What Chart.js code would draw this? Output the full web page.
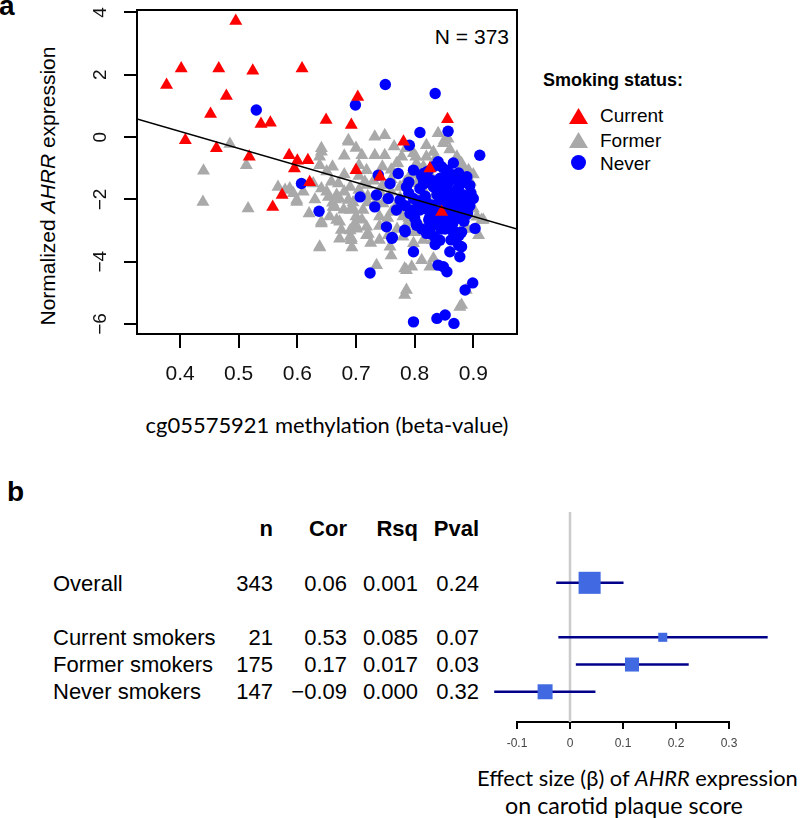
<!DOCTYPE html>
<html>
<head>
<meta charset="utf-8">
<script src="https://cdn.jsdelivr.net/npm/chart.js@4.4.1/dist/chart.umd.min.js"></script>
<style>
  html, body { margin: 0; padding: 0; background: #fff; }
  body { width: 800px; height: 818px; position: relative; overflow: hidden;
         font-family: "Liberation Sans", Arial, sans-serif; color: #000; }
  canvas { position: absolute; }
  #texts { position: absolute; left: 0; top: 0; width: 800px; height: 818px; pointer-events: none; }
  .t { position: absolute; white-space: nowrap; line-height: 1; }
  .c { transform: translate(-50%, -50%); }
  .l { transform: translate(0, -50%); }
  .r { transform: translate(-100%, -50%); }
  .cal { font-family: Lato, "Open Sans", sans-serif; }
  .tri { position: absolute; width: 19px; height: 16px; clip-path: polygon(50% 0, 100% 100%, 0 100%); }
  .dot { position: absolute; width: 15px; height: 15px; border-radius: 50%; }
</style>
</head>
<body>
<div id="texts">
  <!-- panel a text -->
  <div class="t l" style="left:-1px;top:6px;font-size:28px;font-weight:bold">a</div>
  <div class="t r" style="left:509px;top:36px;font-size:21px">N = 373</div>
  <div class="t" style="left:47px;top:186px;font-size:21px;transform:translate(-50%,-50%) rotate(-90deg)">Normalized <i>AHRR</i> expression</div>
  <div class="t c cal fit" data-w="363" style="left:327px;top:425px;font-size:21px">cg05575921 methylation (beta-value)</div>

  <div class="t l" style="left:543px;top:80px;font-size:18px;font-weight:bold">Smoking status:</div>
  <div class="tri" style="left:569px;top:108px;background:#ff0000"></div>
  <div class="tri" style="left:569px;top:132px;background:#a9a9a9"></div>
  <div class="dot" style="left:571px;top:155px;background:#0000ff"></div>
  <div class="t l" style="left:600px;top:115px;font-size:19px">Current</div>
  <div class="t l" style="left:600px;top:140px;font-size:19px">Former</div>
  <div class="t l" style="left:600px;top:163px;font-size:19px">Never</div>

  <!-- panel b text -->
  <div class="t l" style="left:7px;top:492px;font-size:28px;font-weight:bold">b</div>
  <div id="table"></div>
  <div class="t l cal fit" data-w="321" style="left:477px;top:778px;font-size:21px">Effect size (β) of <i>AHRR</i> expression</div>
  <div class="t l cal fit" data-w="238" style="left:505px;top:806px;font-size:21px">on carotid plaque score</div>
</div>
<canvas id="ca" width="800" height="440" style="left:0;top:0"></canvas>
<canvas id="cb" width="320" height="272" style="left:480px;top:480px"></canvas>

<script>
// ---- panel a data: cg05575921 beta-value vs normalized AHRR expression ----
const currentX = [0.377, 0.402, 0.495, 0.466, 0.524, 0.608, 0.479, 0.452, 0.538, 0.554,
  0.409, 0.462, 0.518, 0.586, 0.600, 0.618, 0.595, 0.621, 0.574, 0.558,
  0.649, 0.692, 0.703, 0.700, 0.741, 0.856, 0.781, 0.826, 0.846];
const currentY = [1.67, 2.20, 3.73, 2.20, 2.13, 2.20, 1.32, 0.74, 0.42, 0.46,
  -0.10, -0.36, -0.63, -0.58, -0.76, -0.74, -1.01, -1.45, -1.86, -2.24,
  0.55, 0.39, 1.29, -1.06, -1.27, 0.57, -0.15, -1.01, -2.40];

const formerX = [0.440, 0.439, 0.485, 0.513, 0.516, 0.579, 0.593, 0.599, 0.641, 0.638,
  0.627, 0.641, 0.658, 0.653, 0.672, 0.664, 0.679, 0.641, 0.672, 0.675,
  0.695, 0.701, 0.690, 0.693, 0.638, 0.672, 0.718, 0.687, 0.710, 0.732,
  0.749, 0.732, 0.749, 0.718, 0.715, 0.735, 0.758, 0.783, 0.795, 0.812,
  0.832, 0.786, 0.783, 0.880, 0.888, 0.840, 0.851, 0.820, 0.785, 0.771,
  0.802, 0.892, 0.895, 0.914, 0.909, 0.837, 0.798, 0.754, 0.752, 0.775,
  0.741, 0.701, 0.721, 0.692, 0.786, 0.826, 0.792, 0.858, 0.849, 0.857,
  0.769, 0.766, 0.803, 0.820, 0.670, 0.690, 0.718, 0.667, 0.687, 0.661,
  0.690, 0.712, 0.746, 0.769, 0.792, 0.826, 0.855, 0.880, 0.906, 0.917,
  0.667, 0.698, 0.718, 0.778, 0.798, 0.832, 0.872, 0.880, 0.803, 0.849,
  0.869, 0.784, 0.820, 0.869, 0.837, 0.567, 0.587, 0.599, 0.638, 0.641,
  0.687, 0.660, 0.641, 0.638, 0.692, 0.877, 0.800, 0.810, 0.780, 0.760,
  0.740, 0.720, 0.730, 0.760, 0.790, 0.830, 0.860, 0.890, 0.900, 0.880,
  0.870, 0.815, 0.780, 0.760, 0.740, 0.700, 0.705, 0.680, 0.660, 0.630,
  0.620, 0.610, 0.650, 0.665, 0.680, 0.695, 0.705, 0.720, 0.735, 0.745,
  0.760, 0.775, 0.785, 0.800, 0.815, 0.825, 0.655, 0.690, 0.710, 0.725,
  0.740, 0.755, 0.770, 0.790, 0.805, 0.835, 0.845, 0.865, 0.885, 0.900,
  0.895, 0.875, 0.860, 0.830, 0.810, 0.765, 0.745, 0.705, 0.680, 0.650,
  0.700, 0.760];
const formerY = [-1.08, -2.08, -0.22, -0.90, -2.29, -1.70, -1.80, -2.08, -0.47, -0.90,
  -1.49, -1.65, -1.43, -1.92, -1.98, -2.24, -2.33, -2.72, -2.72, -2.98,
  -2.29, -2.94, -3.20, -3.54, -3.54, -3.26, -3.15, -0.15, -0.58, 0.01,
  0.06, -0.58, -0.58, -1.06, -1.43, -4.11, -3.52, -4.22, -4.16, -3.95,
  -3.90, -4.91, -5.07, -5.39, -4.91, 0.12, -0.10, -0.26, -0.36, -0.84,
  -0.63, -1.06, -1.43, -2.66, -3.15, -2.98, -3.41, -2.60, -2.00, -1.60,
  -1.76, -2.88, -3.11, -3.31, -4.27, -4.16, -2.72, -2.72, -0.20, -0.05,
  -0.85, -1.20, -0.85, -0.63, -1.49, -1.60, -1.54, -1.86, -2.02, -2.24,
  -2.34, -2.34, -2.13, -2.18, -2.24, -2.29, -2.34, -2.18, -2.56, -2.66,
  -2.66, -2.77, -2.88, -0.63, -0.52, -0.48, -0.63, -0.85, -1.49, -1.54,
  -1.38, -1.44, -1.86, -1.81, -1.76, -1.60, -1.65, -2.02, -0.63, -0.36,
  -0.10, -2.11, -2.77, -3.52, -3.25, -5.45, -1.20, -1.95, -2.55, -2.40,
  -2.55, -2.10, -1.40, -1.05, -1.30, -2.60, -2.85, -2.95, -1.20, -0.95,
  -3.25, -3.30, -3.20, -3.80, -3.30, -2.55, -1.70, -1.20, -0.95, -2.00,
  -2.45, -1.75, -1.10, -2.00, -1.75, -2.10, -1.25, -1.90, -2.05, -1.55,
  -1.75, -1.95, -2.85, -3.05, -0.95, -1.15, -2.55, -3.00, -2.65, -3.40,
  -2.85, -3.15, -2.95, -2.60, -2.10, -0.70, -2.75, -2.15, -2.80, -2.30,
  -1.65, -1.25, -0.40, -3.30, -2.85, -0.30, -0.95, -0.90, -0.60, -1.75,
  -0.35, -1.35];

const neverX = [0.530, 0.699, 0.750, 0.835, 0.809, 0.857, 0.791, 0.911, 0.607, 0.707,
  0.637, 0.738, 0.724, 0.798, 0.838, 0.852, 0.867, 0.899, 0.886, 0.849,
  0.855, 0.877, 0.860, 0.880, 0.798, 0.762, 0.752, 0.783, 0.820, 0.843,
  0.903, 0.897, 0.896, 0.894, 0.840, 0.866, 0.772, 0.798, 0.815, 0.843,
  0.860, 0.889, 0.786, 0.758, 0.809, 0.832, 0.855, 0.875, 0.900, 0.735,
  0.755, 0.775, 0.798, 0.820, 0.843, 0.863, 0.883, 0.892, 0.732, 0.769,
  0.792, 0.809, 0.826, 0.855, 0.872, 0.803, 0.826, 0.843, 0.865, 0.832,
  0.855, 0.761, 0.784, 0.803, 0.826, 0.875, 0.840, 0.815, 0.838, 0.868,
  0.880, 0.850, 0.820, 0.790, 0.875, 0.848, 0.828, 0.866, 0.885, 0.800,
  0.845, 0.870, 0.835, 0.812, 0.822, 0.834, 0.846, 0.858, 0.870, 0.882,
  0.894, 0.818, 0.830, 0.842, 0.854, 0.866, 0.878, 0.890, 0.806, 0.824,
  0.836, 0.848, 0.860, 0.872, 0.884, 0.812, 0.828, 0.852, 0.864, 0.876,
  0.888, 0.816, 0.840, 0.858, 0.870, 0.846, 0.834, 0.862, 0.880, 0.796,
  0.808, 0.790, 0.784];
const neverY = [0.87, 1.03, 1.69, 1.40, 0.15, 0.19, -0.26, -0.58, -1.49, -1.92,
  -2.38, -1.22, -4.36, -5.93, -5.82, -5.71, -5.98, -4.68, -4.91, -4.16,
  -4.32, -3.84, -3.68, -3.52, -3.68, -3.22, -2.88, -2.99, -3.09, -3.31,
  -2.93, -1.97, -1.80, -2.20, -0.79, -0.83, -1.17, -1.06, -1.17, -1.33,
  -1.17, -1.27, -1.60, -1.49, -1.65, -1.60, -1.70, -1.60, -1.97, -1.86,
  -1.97, -2.02, -1.97, -2.08, -2.02, -2.13, -2.08, -2.24, -2.24, -2.34,
  -2.45, -2.34, -2.56, -2.50, -2.61, -2.77, -2.77, -2.77, -2.77, -0.95,
  -1.06, -3.25, -3.04, -2.83, -3.09, -3.47, -4.11, -1.40, -1.85, -1.90,
  -2.35, -2.25, -2.30, -1.80, -1.15, -1.55, -1.38, -2.40, -1.45, -2.60,
  -2.95, -3.05, -3.45, -1.25, -1.10, -1.48, -1.30, -1.45, -1.72, -1.85,
  -1.55, -1.90, -2.18, -1.75, -2.00, -2.25, -2.00, -2.45, -2.20, -2.65,
  -2.40, -2.70, -2.55, -2.30, -2.70, -2.95, -2.88, -2.95, -3.00, -3.15,
  -2.50, -1.50, -2.55, -1.95, -1.35, -0.95, -3.20, -3.30, -3.05, -2.35,
  -2.05, -1.45, -2.20];

// least-squares line drawn in panel a
const fitIntercept = 2.36;
const fitSlope = -5.45;
const xRange = [0.3266, 0.9745];
const yRange = [-6.32, 4.08];

// ---- panel b data: AHRR expression vs carotid plaque score ----
const groups = ['Overall', 'Current smokers', 'Former smokers', 'Never smokers'];
const rowPos = [0, 2, 3, 4];
const nVals = ['343', '21', '175', '147'];
const corVals = ['0.06', '0.53', '0.17', '\u22120.09'];
const rsqVals = ['0.001', '0.085', '0.017', '0.000'];
const pVals = ['0.24', '0.07', '0.03', '0.32'];
const beta = [0.037, 0.175, 0.117, -0.047];
const lower = [-0.026, -0.022, 0.011, -0.143];
const upper = [0.101, 0.373, 0.224, 0.048];
const betaTicks = [-0.1, 0.3];   // axis drawn from first to last tick, as in R
const rowRange = [-2.6, 5.11];

Chart.defaults.font.family = '"Liberation Sans", Arial, sans-serif';
Chart.defaults.color = '#000';

const pts = (xs, ys) => xs.map((x, i) => ({ x, y: ys[i] }));

// box round the plot region, as R's box()
const frame = {
  id: 'frame',
  afterDatasetsDraw(chart) {
    const { ctx, chartArea: a } = chart;
    ctx.save();
    ctx.strokeStyle = '#000';
    ctx.lineWidth = 2;
    ctx.strokeRect(a.left, a.top, a.right - a.left, a.bottom - a.top);
    ctx.restore();
  }
};

// y tick labels written parallel to the axis (R's las = 0)
const yTickText = {
  id: 'yTickText',
  afterDraw(chart) {
    const s = chart.scales.y, ctx = chart.ctx;
    ctx.save();
    ctx.font = '19px "Liberation Sans", Arial, sans-serif';
    ctx.fillStyle = '#111';
    ctx.textAlign = 'center';
    ctx.textBaseline = 'middle';
    s.ticks.forEach(t => {
      ctx.save();
      ctx.translate(s.right - 36, s.getPixelForValue(t.value));
      ctx.rotate(-Math.PI / 2);
      ctx.fillText(String(t.value).replace('-', '\u2212'), 0, 0);
      ctx.restore();
    });
    ctx.restore();
  }
};

new Chart(document.getElementById('ca'), {
  type: 'scatter',
  data: {
    datasets: [
      { label: 'fit', data: xRange.map(x => ({ x, y: fitIntercept + fitSlope * x })),
        showLine: true, borderColor: '#000', borderWidth: 1.5, pointRadius: 0, order: -1 },
      { label: 'Current', data: pts(currentX, currentY), pointStyle: 'triangle',
        pointRadius: 7.5, backgroundColor: '#ff0000', borderWidth: 0, order: 0 },
      { label: 'Never', data: pts(neverX, neverY), pointStyle: 'circle',
        pointRadius: 5.7, backgroundColor: '#0000ff', borderWidth: 0, order: 1 },
      { label: 'Former', data: pts(formerX, formerY), pointStyle: 'triangle',
        pointRadius: 7.5, backgroundColor: '#a9a9a9', borderWidth: 0, order: 2 },
    ]
  },
  options: {
    responsive: false, animation: false, devicePixelRatio: 1, events: [],
    layout: { padding: { left: 0, top: 10, right: 283, bottom: 0 } },
    plugins: { legend: { display: false }, tooltip: { enabled: false } },
    scales: {
      x: {
        type: 'linear', min: xRange[0], max: xRange[1],
        afterFit: s => { s.height = 106; },
        border: { display: false },
        grid: { drawOnChartArea: false, tickLength: 14, color: '#000', lineWidth: 2 },
        ticks: { stepSize: 0.1, includeBounds: false, padding: 14, color: '#111',
                 font: { size: 21 }, callback: v => v.toFixed(1) }
      },
      y: {
        type: 'linear', min: yRange[0], max: yRange[1],
        afterFit: s => { s.width = 137; },
        border: { display: false },
        grid: { drawOnChartArea: false, tickLength: 13, color: '#000', lineWidth: 2 },
        ticks: { stepSize: 2, includeBounds: false, display: false }
      }
    }
  },
  plugins: [frame, yTickText]
});

// forest plot: the x scale spans exactly the axis range; CIs may run past it
const ciSets = groups.map((g, i) => ({
  label: g, data: [{ x: lower[i], y: rowPos[i] }, { x: upper[i], y: rowPos[i] }],
  showLine: true, borderColor: '#00008b', borderWidth: 2.5, pointRadius: 0, clip: false
}));

new Chart(document.getElementById('cb'), {
  type: 'scatter',
  data: {
    datasets: [
      { label: 'beta', data: beta.map((b, i) => ({ x: b, y: rowPos[i] })),
        pointStyle: 'rect', pointRadius: [15.6, 6.4, 9.9, 10.6],
        backgroundColor: '#4169e1', borderWidth: 0, clip: false },
      ...ciSets,
      { label: 'zero', data: rowRange.map(y => ({ x: 0, y })), showLine: true,
        borderColor: '#cccccc', borderWidth: 2.5, pointRadius: 0 }
    ]
  },
  options: {
    responsive: false, animation: false, devicePixelRatio: 1, events: [],
    layout: { padding: { left: 37, right: 71, top: 32, bottom: 0 } },
    plugins: { legend: { display: false }, tooltip: { enabled: false } },
    scales: {
      x: {
        type: 'linear', min: betaTicks[0], max: betaTicks[1],
        afterFit: s => { s.height = 30; },
        border: { display: true, color: '#000', width: 2 },
        grid: { drawOnChartArea: false, tickLength: 7, color: '#000', lineWidth: 2 },
        ticks: { stepSize: 0.1, padding: 7, color: '#444', font: { size: 12 } }
      },
      y: { type: 'linear', display: false, reverse: true, min: rowRange[0], max: rowRange[1] }
    }
  }
});

// table of panel b
const rowY = { head: 529, rows: [584, 638, 665, 692] };
const colRight = [273, 347, 418, 479];
let html = '';
['n', 'Cor', 'Rsq', 'Pval'].forEach((h, j) => {
  html += `<div class="t r" style="left:${colRight[j]}px;top:${rowY.head}px;font-size:22px;font-weight:bold">${h}</div>`;
});
groups.forEach((g, i) => {
  const y = rowY.rows[i];
  html += `<div class="t l" style="left:53px;top:${y}px;font-size:22px">${g}</div>`;
  [nVals[i], corVals[i], rsqVals[i], pVals[i]].forEach((v, j) => {
    html += `<div class="t r" style="left:${colRight[j]}px;top:${y}px;font-size:22px">${v}</div>`;
  });
});
document.getElementById('table').innerHTML = html;

// fit the Calibri-like titles to the widths seen in the figure
document.querySelectorAll('.fit').forEach(el => {
  const w = el.getBoundingClientRect().width;
  const fs = parseFloat(el.style.fontSize);
  el.style.fontSize = (fs * (+el.dataset.w) / w).toFixed(2) + 'px';
});
</script>
</body>
</html>
